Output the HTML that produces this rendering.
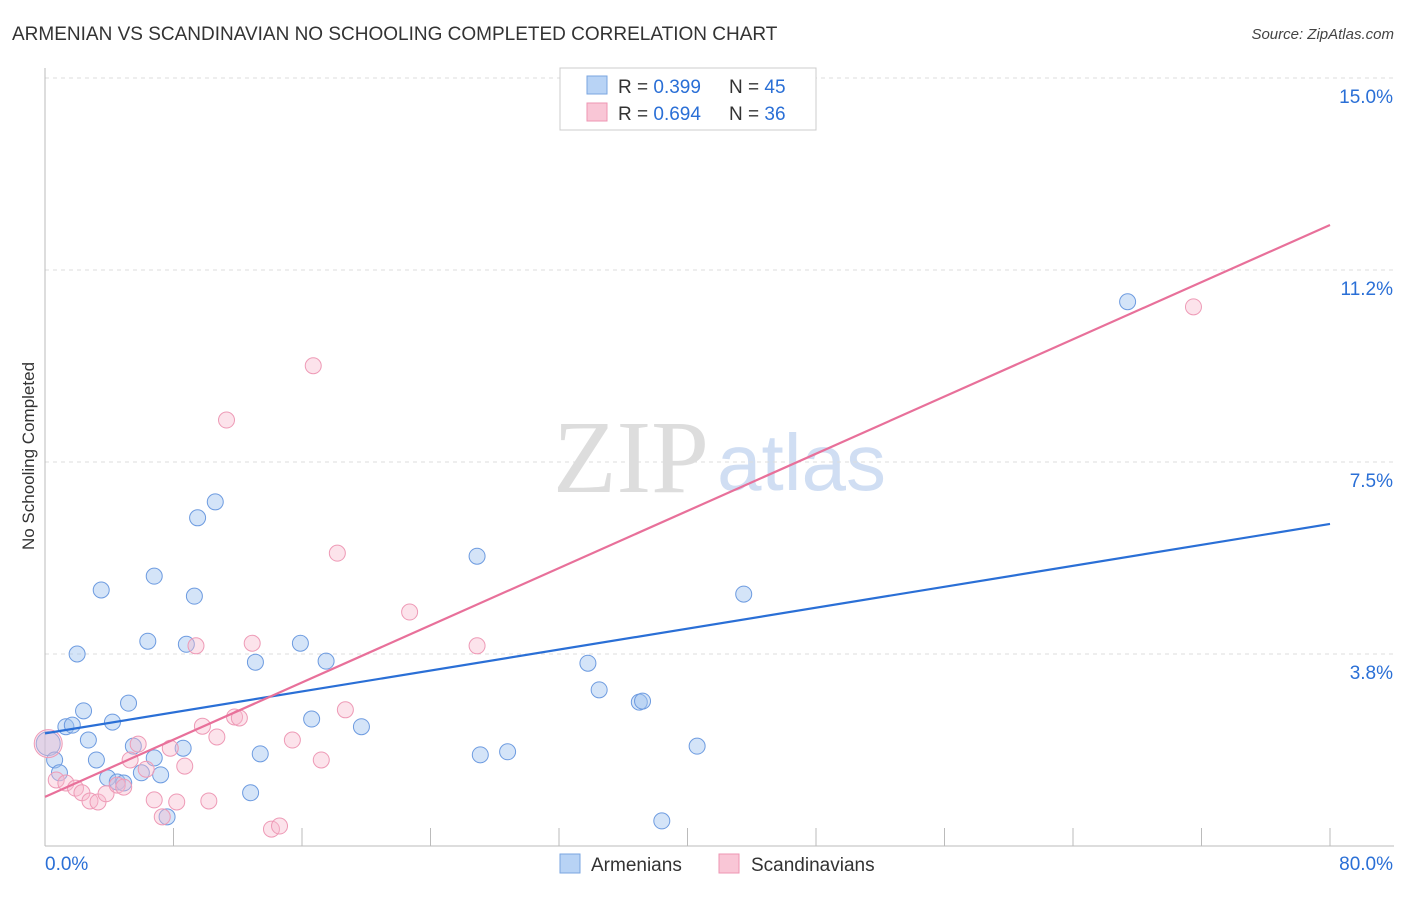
<!DOCTYPE html>
<html><head><meta charset="utf-8"><style>
body{margin:0;background:#fff;font-family:"Liberation Sans",sans-serif}
</style></head><body>
<svg width="1406" height="892" xmlns="http://www.w3.org/2000/svg">
<text x="12" y="40" font-size="19" fill="#333">ARMENIAN VS SCANDINAVIAN NO SCHOOLING COMPLETED CORRELATION CHART</text>
<text x="1394" y="39" font-size="15" fill="#444" text-anchor="end" font-style="italic">Source: ZipAtlas.com</text>
<text transform="translate(34,456) rotate(-90)" font-size="17" fill="#333" text-anchor="middle">No Schooling Completed</text>
<text x="553" y="492" font-size="104" fill="#ddd" font-family="Liberation Serif">ZIP</text>
<text x="717" y="490" font-size="80" fill="#d0def3">atlas</text>
<g id="grid"></g><g id="axes"></g><g id="pts"></g><g id="lines"></g>
<g>
<rect x="560" y="68" width="256" height="62" fill="#fff" stroke="#ccc"/>
<rect x="587" y="76" width="20" height="18" fill="#b8d3f5" stroke="#7aa6e0"/>
<text x="618" y="93" font-size="19" fill="#333">R = <tspan fill="#2a6fd6">0.399</tspan></text>
<text x="729" y="93" font-size="19" fill="#333">N = <tspan fill="#2a6fd6">45</tspan></text>
<rect x="587" y="103" width="20" height="18" fill="#f9c6d6" stroke="#ee95b3"/>
<text x="618" y="120" font-size="19" fill="#333">R = <tspan fill="#2a6fd6">0.694</tspan></text>
<text x="729" y="120" font-size="19" fill="#333">N = <tspan fill="#2a6fd6">36</tspan></text>
</g>
<g>
<rect x="560" y="854" width="20" height="19" fill="#b8d3f5" stroke="#7aa6e0"/>
<text x="591" y="871" font-size="19" fill="#333">Armenians</text>
<rect x="719" y="854" width="20" height="19" fill="#f9c6d6" stroke="#ee95b3"/>
<text x="751" y="871" font-size="19" fill="#333">Scandinavians</text>
</g>
</svg>
<script>
const yTicks=[3.75,7.5,11.25,15];
const yTickLabels=["3.8%","7.5%","11.2%","15.0%"];
const armX=[0.2,0.6,0.9,1.3,1.7,2.0,2.4,2.7,3.2,3.5,3.9,4.2,4.5,4.9,5.2,5.5,6.0,6.4,6.8,6.8,7.2,7.6,8.6,8.8,9.3,9.5,10.6,12.8,13.1,13.4,15.9,16.6,17.5,19.7,26.9,27.1,28.8,33.8,34.5,37.0,37.2,38.4,40.6,43.5,67.4];
const armY=[2.0,1.68,1.43,2.33,2.36,3.75,2.64,2.07,1.68,5.0,1.33,2.42,1.25,1.23,2.79,1.95,1.43,4.0,5.27,1.72,1.39,0.57,1.91,3.94,4.88,6.41,6.72,1.04,3.59,1.80,3.96,2.48,3.61,2.33,5.66,1.78,1.84,3.57,3.05,2.81,2.83,0.49,1.95,4.92,10.63];
const scaX=[0.2,0.7,1.3,1.9,2.3,2.8,3.3,3.8,4.5,4.9,5.3,5.8,6.3,6.8,7.3,7.8,8.2,8.7,9.4,9.8,10.2,10.7,11.3,11.8,12.1,12.9,14.1,14.6,15.4,16.7,17.2,18.2,18.7,22.7,26.9,71.5];
const scaY=[2.0,1.29,1.23,1.13,1.04,0.88,0.86,1.02,1.19,1.15,1.68,1.99,1.50,0.90,0.57,1.91,0.86,1.56,3.91,2.34,0.88,2.13,8.32,2.52,2.50,3.96,0.33,0.39,2.07,9.38,1.68,5.72,2.66,4.57,3.91,10.53];
const armLine=[2.2,6.29], scaLine=[0.96,12.13];
const NS="http://www.w3.org/2000/svg";
const X0=45,X1=1330,Y0=846,Y15=78;
const xs=v=>X0+(X1-X0)*v/80, ys=v=>Y0-(Y0-Y15)*v/15;
function mk(t,a,p){const e=document.createElementNS(NS,t);for(const k in a)e.setAttribute(k,a[k]);p.appendChild(e);return e;}
const grid=document.getElementById('grid'),axes=document.getElementById('axes'),pts=document.getElementById('pts'),lines=document.getElementById('lines');
yTicks.forEach((t,i)=>{const l=mk('line',{x1:X0,x2:1394,y1:ys(t),y2:ys(t),stroke:'#ddd','stroke-dasharray':'4,4'},grid);


const tx=mk('text',{x:1393,y:ys(t)+25,'font-size':19,fill:'#2a6fd6','text-anchor':'end'},grid);tx.textContent=yTickLabels[i];

});
const ax=mk('line',{x1:X0,x2:1394,y1:Y0,y2:Y0,stroke:'#bbb'},axes);


const ay=mk('line',{x1:X0,x2:X0,y1:68,y2:Y0,stroke:'#bbb'},axes);


for(let i=1;i<=10;i++){const t=mk('line',{x1:xs(i*8),x2:xs(i*8),y1:Y0,y2:Y0-18,stroke:'#bbb'},axes);

}
[["0.0%",X0,'start'],["80.0%",1393,'end']].forEach(a=>{const t=mk('text',{x:a[1],y:870,'font-size':19,fill:'#2a6fd6','text-anchor':a[2]},axes);t.textContent=a[0];

});
armX.forEach((v,i)=>{const c=mk('circle',{cx:xs(v),cy:ys(armY[i]),r:i==0?12:8,fill:'rgba(160,195,240,0.45)',stroke:'#6d9be0','stroke-width':1},pts);

});
scaX.forEach((v,i)=>{const c=mk('circle',{cx:xs(v),cy:ys(scaY[i]),r:i==0?14:8,fill:'rgba(247,185,205,0.4)',stroke:'#ee9ab6','stroke-width':1},pts);

});
const l1=mk('line',{x1:xs(0),y1:ys(armLine[0]),x2:xs(80),y2:ys(armLine[1]),stroke:'#2a6fd6','stroke-width':2.2},lines);


const l2=mk('line',{x1:xs(0),y1:ys(scaLine[0]),x2:xs(80),y2:ys(scaLine[1]),stroke:'#e8709a','stroke-width':2.2},lines);


</script>
</body></html>
